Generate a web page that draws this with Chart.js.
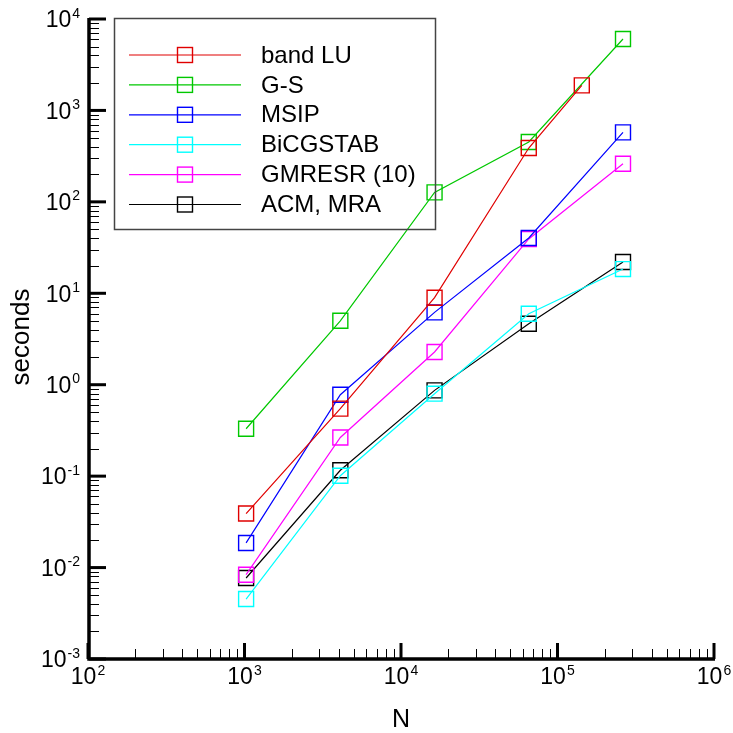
<!DOCTYPE html>
<html>
<head>
<meta charset="utf-8">
<script src="https://cdn.jsdelivr.net/npm/chart.js@4.4.0/dist/chart.umd.min.js"></script>
<style>
  html, body { margin: 0; padding: 0; background: #fff; }
</style>
</head>
<body>
<canvas id="trend_chart" width="733" height="733"></canvas>
<script>
// problem sizes N
var nSizes = [1024, 4096, 16384, 65536, 262144]
var nBandLU = [1024, 4096, 16384, 65536, 143000]

// run times (seconds)
var bandLU   = [0.039, 0.547, 8.95, 388, 1878]
var gaussS   = [0.33, 5.0, 127, 452, 6040]
var msip     = [0.0186, 0.778, 6.18, 40.3, 575]
var bicgstab = [0.00453, 0.101, 0.798, 5.98, 18.4]
var gmresr   = [0.00836, 0.265, 2.28, 39.3, 261]
var acmMra   = [0.00769, 0.116, 0.867, 4.65, 22.0]

var names  = ['band LU', 'G-S', 'MSIP', 'BiCGSTAB', 'GMRESR (10)', 'ACM, MRA']
var colors = ['#e00000', '#00c800', '#0000ff', '#00ffff', '#ff00ff', '#000000']

var xPowers = [2, 3, 4, 5, 6]
var yPowers = [-3, -2, -1, 0, 1, 2, 3, 4]

var FONT = '"Liberation Sans", Arial, Helvetica, sans-serif'

function pts(xs, ys) {
    var out = []
    for (var i = 0; i < ys.length; i++) out.push({x: xs[i], y: ys[i]})
    return out
}

var series = [
    pts(nBandLU, bandLU),
    pts(nSizes, gaussS),
    pts(nSizes, msip),
    pts(nSizes, bicgstab),
    pts(nSizes, gmresr),
    pts(nSizes, acmMra)
]

var ds = []
for (var i = 0; i < series.length; i++) {
    ds.push({
        label: names[i],
        data: series[i],
        borderColor: colors[i],
        backgroundColor: colors[i],
        borderWidth: 1.2,
        pointStyle: 'rect',
        pointRadius: 10.6,
        pointHoverRadius: 10.6,
        pointBorderWidth: 1.4,
        pointBorderColor: colors[i],
        pointBackgroundColor: 'rgba(0,0,0,0)',
        tension: 0,
        clip: false
    })
}

// "10" with a raised exponent
function drawPow(ctx, p, x, y, align) {
    ctx.font = '23px ' + FONT
    var wb = ctx.measureText('10').width
    ctx.font = '14px ' + FONT
    var we = ctx.measureText(String(p)).width
    var total = wb + 1 + we
    var left = align === 'right' ? x - total : x - total / 2
    ctx.textAlign = 'left'
    ctx.textBaseline = 'alphabetic'
    ctx.fillStyle = '#000'
    ctx.font = '23px ' + FONT
    ctx.fillText('10', left, y + 8.3)
    ctx.font = '14px ' + FONT
    ctx.fillText(String(p), left + wb + 1, y - 1.5)
}

var frame = {
    id: 'frame',
    afterDraw: function (chart) {
        var ctx = chart.ctx
        var xs = chart.scales.x, ys = chart.scales.y
        var a = chart.chartArea
        ctx.save()
        ctx.strokeStyle = '#000'

        // axis lines
        ctx.lineWidth = 3.5
        ctx.beginPath()
        ctx.moveTo(89, a.top - 1)
        ctx.lineTo(89, a.bottom)
        ctx.lineTo(a.right + 1, a.bottom)
        ctx.stroke()

        // x ticks (inward)
        xPowers.forEach(function (p, idx) {
            var v = Math.pow(10, p)
            var px = xs.getPixelForValue(v)
            ctx.lineWidth = 3
            ctx.beginPath(); ctx.moveTo(px, a.bottom); ctx.lineTo(px, a.bottom - 16); ctx.stroke()
            if (idx < xPowers.length - 1) {
                ctx.lineWidth = 1
                for (var k = 2; k <= 9; k++) {
                    var mx = Math.round(xs.getPixelForValue(k * v)) + 0.5
                    ctx.beginPath(); ctx.moveTo(mx, a.bottom); ctx.lineTo(mx, a.bottom - 10); ctx.stroke()
                }
            }
            drawPow(ctx, p, px, 676, 'center')
        })

        // y ticks (inward)
        yPowers.forEach(function (p, idx) {
            var v = Math.pow(10, p)
            var py = ys.getPixelForValue(v)
            ctx.lineWidth = 3
            ctx.beginPath(); ctx.moveTo(89, py); ctx.lineTo(89 + 17, py); ctx.stroke()
            if (idx < yPowers.length - 1) {
                ctx.lineWidth = 1
                for (var k = 2; k <= 9; k++) {
                    var my = Math.round(ys.getPixelForValue(k * v)) + 0.5
                    ctx.beginPath(); ctx.moveTo(89, my); ctx.lineTo(89 + 10, my); ctx.stroke()
                }
            }
            drawPow(ctx, p, 80, py, 'right')
        })

        // axis titles
        ctx.fillStyle = '#000'
        ctx.textAlign = 'center'
        ctx.textBaseline = 'middle'
        ctx.font = '25px ' + FONT
        ctx.fillText('N', (a.left + a.right) / 2, 720)
        ctx.save()
        ctx.translate(22, 337)
        ctx.rotate(-Math.PI / 2)
        ctx.font = '26px ' + FONT
        ctx.fillText('seconds', 0, 0)
        ctx.restore()

        // legend box
        ctx.strokeStyle = '#444'
        ctx.lineWidth = 1.5
        ctx.strokeRect(114.5, 18.5, 321, 211)
        chart.data.datasets.forEach(function (d, i) {
            var ly = 55 + i * 29.9
            ctx.strokeStyle = d.borderColor
            ctx.lineWidth = 1.2
            ctx.beginPath(); ctx.moveTo(129, ly); ctx.lineTo(241, ly); ctx.stroke()
            ctx.lineWidth = 1.4
            ctx.strokeRect(177.5, ly - 7.5, 15, 15)
            ctx.fillStyle = '#000'
            ctx.textAlign = 'left'
            ctx.textBaseline = 'middle'
            ctx.font = '24px ' + FONT
            ctx.fillText(d.label, 261, ly + 1)
        })
        ctx.restore()
    }
}

var ctx = document.getElementById('trend_chart')
var myChart = new Chart(ctx, {
    type: 'line',
    data: {datasets: ds},
    options: {
        responsive: false,
        animation: false,
        devicePixelRatio: 1,
        layout: {padding: {left: 88, top: 19, right: 19, bottom: 74}},
        scales: {
            x: {type: 'logarithmic', min: 100, max: 1000000, display: false},
            y: {type: 'logarithmic', min: 0.001, max: 10000, display: false}
        },
        plugins: {
            legend: {display: false},
            tooltip: {enabled: false}
        }
    },
    plugins: [frame]
})
</script>
</body>
</html>
